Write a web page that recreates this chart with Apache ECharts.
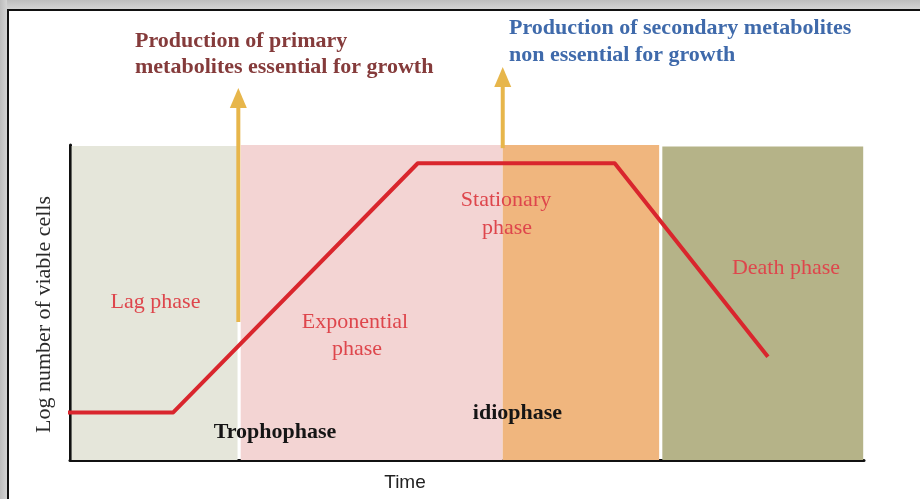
<!DOCTYPE html>
<html>
<head>
<meta charset="utf-8">
<script src="https://cdn.jsdelivr.net/npm/echarts@6/dist/echarts.min.js"></script>
<style>
html,body{margin:0;padding:0;background:#fff;}
#chart{width:920px;height:499px;}
</style>
</head>
<body>
<div id="chart"></div>
<script>
// ---- data (arbitrary units: time 0..100, log cells 0..100) ----
const growthTime = [-0.75, 13.0, 43.8, 68.6, 87.9];
const growthLogCells = [15.1, 15.1, 94.2, 94.2, 32.8];

const phaseNames = ['Lag phase', 'Exponential phase', 'Stationary phase', 'Death phase'];
const phaseStart = [0.2, 21.5, 54.5, 74.6];
const phaseEnd = [21.1, 54.5, 74.2, 99.9];
const phaseTop = [99.7, 100, 100.5, 99.5];

const arrowTime = [21.2, 54.5];
const arrowBase = [43.8, 99.0];
const arrowHead = [114.9, 121.6];

const primaryText = ['Production of primary', 'metabolites essential for growth'];
const secondaryText = ['Production of secondary metabolites', 'non essential for growth'];

// ---- styles ----
const phaseColors = ['#e5e6da', '#f3d4d3', '#f0b67e', '#b5b388'];
const serif = 'Liberation Serif, Times New Roman, serif';
const labelRed = '#de464c';

const chart = echarts.init(document.getElementById('chart'), null, {renderer: 'canvas'});

const markAreaData = phaseNames.map((n, i) => [
  {xAxis: phaseStart[i], yAxis: 0, itemStyle: {color: phaseColors[i], opacity: 1}},
  {xAxis: phaseEnd[i], yAxis: phaseTop[i]}
]);

const arrowSeries = arrowTime.map((t, i) => ({
  type: 'line',
  clip: false,
  silent: true,
  z: 4,
  symbol: 'triangle',
  symbolSize: [17, 20],
  showSymbol: true,
  itemStyle: {color: '#e7b64b'},
  lineStyle: {color: '#e7b64b', width: 4},
  data: [
    {value: [t, arrowBase[i]], symbol: 'none'},
    {value: [t, arrowHead[i]]}
  ]
}));

function txt(text, x, y, opts) {
  return {
    type: 'text', x: x, y: y, z: 100, silent: true,
    style: {text: text, font: (opts && opts.font) || ('22px ' + serif), fill: (opts && opts.fill) || labelRed,
      align: (opts && opts.align) || 'center', verticalAlign: 'middle'}
  };
}

const graphics = [
  {type: 'rect', shape: {x: 0, y: 0, width: 920, height: 9}, z: 90,
    style: {fill: new echarts.graphic.LinearGradient(0, 0, 0, 1, [{offset: 0, color: '#bdbdbd'}, {offset: 1, color: '#d4d4d4'}])}},
  {type: 'rect', shape: {x: 0, y: 0, width: 7, height: 499}, z: 90,
    style: {fill: new echarts.graphic.LinearGradient(0, 0, 1, 0, [{offset: 0, color: '#bdbdbd'}, {offset: 1, color: '#d4d4d4'}])}},
  {type: 'rect', shape: {x: 7, y: 9, width: 913, height: 2}, z: 91, style: {fill: '#111'}},
  {type: 'rect', shape: {x: 7, y: 9, width: 2, height: 490}, z: 91, style: {fill: '#111'}},

  txt(primaryText[0], 135, 41, {align: 'left', fill: '#853b3b', font: 'bold 22px ' + serif}),
  txt(primaryText[1], 135, 67, {align: 'left', fill: '#853b3b', font: 'bold 22px ' + serif}),
  txt(secondaryText[0], 509, 28, {align: 'left', fill: '#3f6aab', font: 'bold 22px ' + serif}),
  txt(secondaryText[1], 509, 55, {align: 'left', fill: '#3f6aab', font: 'bold 22px ' + serif}),

  txt('Lag phase', 155.5, 302),
  txt('Exponential', 355, 322),
  txt('phase', 357, 349),
  txt('Stationary', 506, 200),
  txt('phase', 507, 228),
  txt('Death phase', 786, 268),
  txt('Trophophase', 275, 432, {fill: '#151515', font: 'bold 22px ' + serif}),
  txt('idiophase', 517.5, 413, {fill: '#151515', font: 'bold 22px ' + serif})
];

const option = {
  animation: false,
  backgroundColor: '#ffffff',
  grid: {left: 70, right: 56, top: 145, bottom: 39},
  xAxis: {
    type: 'value', min: 0, max: 100,
    axisLine: {show: true, lineStyle: {color: '#111', width: 3}},
    axisTick: {show: false}, axisLabel: {show: false}, splitLine: {show: false},
    name: 'Time', nameLocation: 'middle', nameGap: 13,
    nameTextStyle: {fontFamily: 'Liberation Sans, Arial, sans-serif', fontSize: 19, color: '#222', padding: [0, 124, 0, 0]}
  },
  yAxis: {
    type: 'value', min: 0, max: 100,
    axisLine: {show: true, lineStyle: {color: '#111', width: 3}},
    axisTick: {show: false}, axisLabel: {show: false}, splitLine: {show: false},
    name: 'Log number of viable cells', nameLocation: 'middle', nameGap: 15, nameRotate: 90,
    nameTextStyle: {fontFamily: serif, fontSize: 22, color: '#2a2a2a', padding: [0, 24, 0, 0]}
  },
  series: [
    {
      type: 'line', name: 'phases', data: [], z: 1, silent: true,
      markArea: {silent: true, label: {show: false}, data: markAreaData}
    },
    ...arrowSeries,
    {
      type: 'line', name: 'growth', clip: false, silent: true, z: 5,
      symbol: 'none',
      lineStyle: {color: '#d9262d', width: 4, join: 'round'},
      data: growthTime.map((t, i) => [t, growthLogCells[i]])
    }
  ],
  graphic: graphics
};
chart.setOption(option);
</script>
</body>
</html>
